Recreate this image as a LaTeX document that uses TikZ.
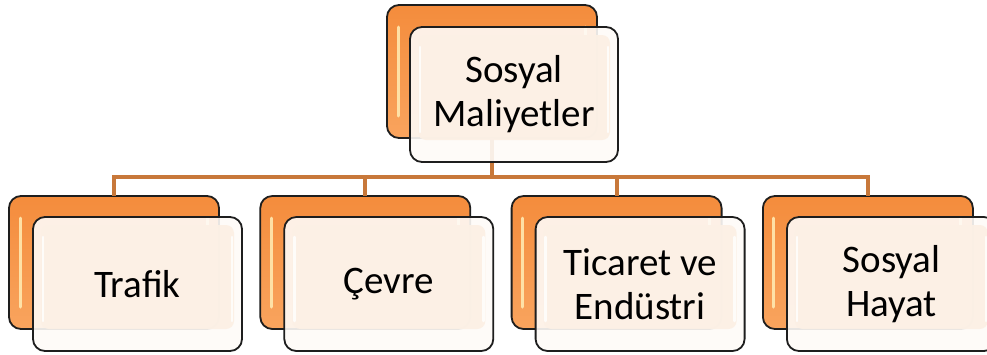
\documentclass[tikz,border=0pt]{standalone}
\usepackage{fontspec}
\setmainfont{Carlito}
\definecolor{connc}{HTML}{C8783A}
\definecolor{orgtop}{HTML}{F48C3C}
\definecolor{orgbot}{HTML}{F9A45E}
\definecolor{edgec}{HTML}{1E1E1E}
\definecolor{frontc}{HTML}{FEFBF8}
\definecolor{innerc}{HTML}{FCF0E5}
\definecolor{glowc}{HTML}{FFE9B0}
\begin{document}
\begin{tikzpicture}[x=1pt,y=-1pt,
  backbox/.style={draw=edgec,line width=1.8pt,rounded corners=12pt,
    top color=orgtop,bottom color=orgbot,minimum width=210pt,minimum height=133pt,
    inner sep=0pt,outer sep=0pt},
  frontbox/.style={draw=edgec,line width=1.8pt,rounded corners=12pt,
    fill=frontc,fill opacity=0.9,minimum width=209pt,minimum height=134pt,
    inner sep=0pt,outer sep=0pt},
  innerbox/.style={fill=innerc,fill opacity=0.95,rounded corners=8pt},
  glow/.style={draw=glowc,line width=3pt,line cap=round,draw opacity=0.9},
  wglow/.style={draw=white,line width=2.5pt,line cap=round,draw opacity=0.8},
  conn/.style={draw=connc,line width=3.8pt},
  lbl/.style={font=\fontsize{39}{44}\selectfont,align=center,text=black,inner sep=0pt}]
\useasboundingbox (0,0) rectangle (987,354);
\fill[white] (0,0) rectangle (987,354);
% back boxes
\node[backbox] (top) at (492,71.5) {};
\foreach \i/\n in {0/b1,1/b2,2/b3,3/b4}{
  \node[backbox] (\n) at ({114+251.3*\i},262.5) {};
}
% connectors
\coordinate (hub) at (492,177);
\draw[conn] (top.south) -- (hub);
\foreach \n in {b1,b2,b3,b4}{
  \draw[conn] (hub) -| (\n.north);
}
% glossy strips on back boxes
\foreach \n in {top,b1,b2,b3,b4}{
  \draw[glow] ([shift={(11,22)}]\n.north west) -- ([shift={(11,-22)}]\n.south west);
  \draw[glow] ([shift={(-12,22)}]\n.north east) -- ([shift={(-12,-22)}]\n.south east);
}
% front boxes
\node[frontbox,minimum width=208pt,minimum height=135pt] (ftop) at (514,94.5) {};
\foreach \i/\n in {0/f1,1/f2,2/f3,3/f4}{
  \node[frontbox] (\n) at ({137.5+251.3*\i},284) {};
}
\foreach \n in {ftop,f1,f2,f3,f4}{
  \fill[innerbox] ([shift={(8,8)}]\n.north west) rectangle ([shift={(-8,-22)}]\n.south east);
  \draw[wglow] ([shift={(10,20)}]\n.north west) -- ([shift={(10,-30)}]\n.south west);
  \draw[wglow] ([shift={(-10,20)}]\n.north east) -- ([shift={(-10,-30)}]\n.south east);
}
% labels
\node[lbl] (ttop) at (ftop.center) {Sosyal\\Maliyetler};
\node[lbl] (t1) at (f1.center) {Trafik};
\node[lbl] (t2) at (f2.center) {Çevre};
\node[lbl] (t3) at (f3.center) {Ticaret ve\\Endüstri};
\node[lbl] (t4) at (f4.center) {Sosyal\\Hayat};
\end{tikzpicture}
\end{document}
